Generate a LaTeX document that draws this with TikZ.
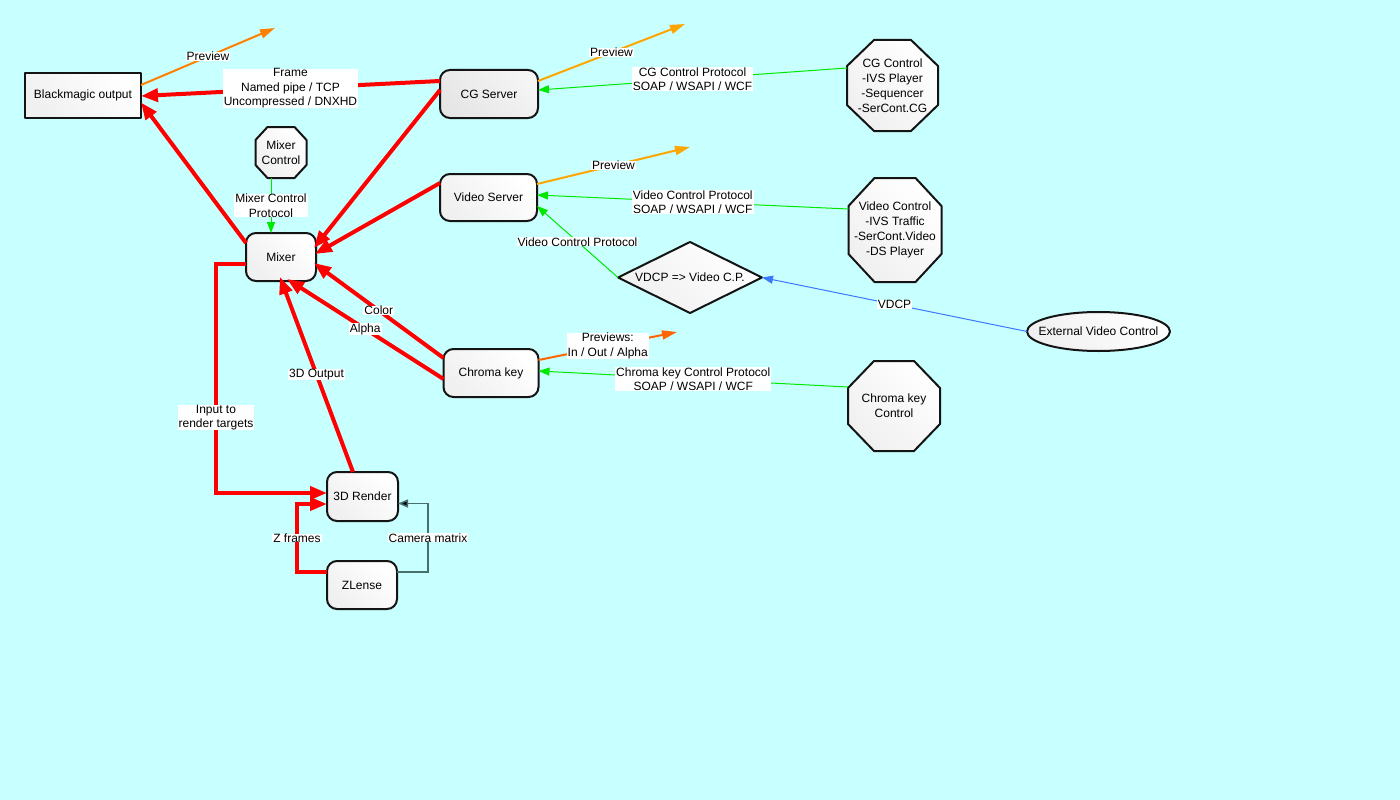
\documentclass[tikz,border=0pt]{standalone}
\usepackage{fontspec}
\setmainfont{Liberation Sans}
\usetikzlibrary{arrows.meta,shapes.geometric,calc}
\pgfdeclarelayer{bg}
\pgfsetlayers{bg,main}
\definecolor{bgc}{RGB}{200,255,255}
\definecolor{cgreen}{RGB}{0,232,0}
\definecolor{cblue}{RGB}{60,120,255}
\definecolor{orA}{RGB}{255,128,0}
\definecolor{orB}{RGB}{255,165,0}
\definecolor{orC}{RGB}{255,102,0}
\definecolor{camc}{RGB}{72,110,110}
\newcommand\octshape[3]{%
\begin{pgfonlayer}{bg}
\draw[nodeline,nodefill] ($(#1.north west)+(#2,0)$) -- ($(#1.north east)+(-#2,0)$) -- ($(#1.north east)+(0,#3)$) -- ($(#1.south east)+(0,-#3)$) -- ($(#1.south east)+(-#2,0)$) -- ($(#1.south west)+(#2,0)$) -- ($(#1.south west)+(0,-#3)$) -- ($(#1.north west)+(0,#3)$) -- cycle;
\end{pgfonlayer}}
\begin{document}
\begin{tikzpicture}[x=1pt,y=-1pt,
  font=\fontsize{12}{14.5}\selectfont,
  nodeline/.style={draw=black!92, line width=2pt, line join=round},
  nodefill/.style={shading=axis, top color=white, bottom color=black!6, shading angle=-45},
  rbox/.style={nodeline, nodefill, rounded corners=10pt, outer sep=0pt, inner sep=0pt, align=center},
  sbox/.style={nodeline, nodefill, outer sep=0pt, inner sep=0pt, align=center},
  octn/.style={outer sep=0pt, inner sep=0pt, align=center, font=\fontsize{12}{15}\selectfont},
  lbl/.style={fill=white, inner xsep=1pt, inner ysep=0pt, align=center, font=\fontsize{12}{14.5}\selectfont},
  redarr/.style={draw=red, line width=4pt, -{Triangle[length=17pt,width=13pt]}},
  grarr/.style={draw=cgreen, line width=1pt, -{Triangle[length=11pt,width=8pt]}},
  prevarr/.style={line width=2pt, -{Triangle[length=15pt,width=9pt]}},
]
\begin{pgfonlayer}{bg}
\fill[bgc] (0,0) rectangle (1400,800);
\end{pgfonlayer}
\useasboundingbox (0,0) rectangle (1400,800);

% nodes
\node[sbox, minimum width=116pt, minimum height=45pt] (bm) at (83,95.5) {Blackmagic output};
\node[rbox, minimum width=98pt, minimum height=48pt, top color=black!4, bottom color=black!10, shading angle=-45] (cg) at (489,94) {CG Server};
\node[octn, minimum width=51pt, minimum height=51pt] (mixc) at (281,152.5) {Mixer\\Control};
\octshape{mixc}{12}{13}
\node[rbox, minimum width=70pt, minimum height=48pt] (mix) at (281,257) {Mixer};
\node[rbox, minimum width=97pt, minimum height=47pt] (vs) at (488.5,197.5) {Video Server};
\node[octn, minimum width=91pt, minimum height=91pt] (cgc) at (892.5,85.5) {CG Control\\-IVS Player\\-Sequencer\\-SerCont.CG};
\octshape{cgc}{27}{26}
\node[octn, minimum width=93pt, minimum height=104pt] (vc) at (895,230) {Video Control\\-IVS Traffic\\-SerCont.Video\\-DS Player};
\octshape{vc}{26}{28}
\node[octn, minimum width=92pt, minimum height=90pt] (ckc) at (894,406) {Chroma key\\Control};
\octshape{ckc}{26}{27}
\node[diamond, nodeline, nodefill, minimum width=144pt, minimum height=71pt, inner sep=0pt, outer sep=0pt, aspect=2] (vdcp) at (690,277.5) {\makebox[0pt]{VDCP => Video C.P.}};
\node[ellipse, nodeline, nodefill, minimum width=143pt, minimum height=39pt, inner sep=0pt, outer sep=0pt] (ext) at (1098.5,331.5) {\makebox[0pt]{External Video Control}};
\node[rbox, minimum width=95pt, minimum height=48pt] (ck) at (491,373) {Chroma key};
\node[rbox, minimum width=71pt, minimum height=49pt] (r3d) at (362.5,496.5) {3D Render};
\node[rbox, minimum width=70pt, minimum height=48pt] (zl) at (362,585) {ZLense};

\coordinate (pv1) at (275,28);
\coordinate (pv2) at (685,24);
\coordinate (pv3) at (690,147);
\coordinate (pv4) at (677,332);

% preview arrows
\draw[prevarr, draw=orA] ($(bm.east)+(0,-10.5)$) -- node[lbl]{Preview} (pv1);
\draw[prevarr, draw=orB] ($(cg.east)+(0,-13)$) -- node[lbl]{Preview} (pv2);
\draw[prevarr, draw=orB] ($(vs.east)+(0,-13.5)$) -- node[lbl]{Preview} (pv3);
\draw[prevarr, draw=orC] ($(ck.east)+(0,-13)$) -- node[lbl]{Previews:\\In / Out / Alpha} (pv4);

% control arrows
\draw[grarr] ($(cgc.west)+(0,-17.5)$) -- node[lbl]{CG Control Protocol\\SOAP / WSAPI / WCF} ($(cg.east)+(0,-4)$);
\draw[grarr] ($(vc.west)+(0,-21)$) -- node[lbl]{Video Control Protocol\\SOAP / WSAPI / WCF} ($(vs.east)+(0,-2.5)$);
\draw[grarr] (vdcp.west) -- node[lbl]{Video Control Protocol} ($(vs.east)+(0,8.5)$);
\draw[grarr] ($(ckc.west)+(0,-19)$) -- node[lbl]{Chroma key Control Protocol\\SOAP / WSAPI / WCF} ($(ck.east)+(0,-2)$);
\draw[grarr] ($(mixc.south)+(-10,0)$) -- node[lbl]{Mixer Control\\Protocol} ($(mix.north)+(-10,0)$);
\draw[draw=cblue, line width=1pt, -{Triangle[length=11pt,width=8pt]}] (ext.west) -- node[lbl]{VDCP} (vdcp.east);

% red video flows
\draw[redarr] ($(cg.west)+(0,-13)$) -- node[lbl]{Frame\\Named pipe / TCP\\Uncompressed / DNXHD} ($(bm.east)+(0,0.5)$);
\draw[redarr] ($(mix.west)+(0,-14)$) -- ($(bm.east)+(0,7)$);
\draw[redarr] ($(cg.west)+(0,-4)$) -- ($(mix.east)+(-2,-9)$);
\draw[redarr] ($(vs.west)+(0,-14.5)$) -- ($(mix.east)+(-1,-3)$);
\draw[redarr] ($(ck.west)+(0,-15)$) -- node[lbl]{Color} ($(mix.east)+(-2,6)$);
\draw[redarr] ($(ck.west)+(0,6)$) -- node[lbl]{Alpha} ($(mix.south)+(6,-2)$);
\draw[redarr] ($(r3d.north)+(-9.5,0)$) -- node[lbl]{3D Output} ($(mix.south)+(-1,-4)$);
\draw[redarr] ($(mix.west)+(0,7)$) -- (216,264) -- node[lbl,pos=0.67]{Input to\\render targets} (216,493) -- ($(r3d.west)+(0,-3.5)$);
\draw[redarr] ($(zl.west)+(0,-13)$) -- (297,572) -- node[lbl]{Z frames} (297,504) -- ($(r3d.west)+(0,7.5)$);
\draw[draw=camc, line width=1.5pt, -{Triangle[length=10pt,width=8pt,fill=black]}] ($(zl.east)+(0,-13)$) -- (428,572) -- node[lbl]{Camera matrix} (428,503.5) -- ($(r3d.east)+(0,7)$);
\end{tikzpicture}
\end{document}
